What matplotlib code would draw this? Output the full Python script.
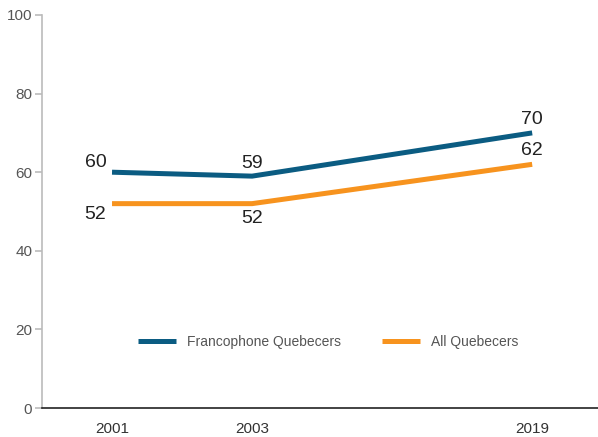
import matplotlib
matplotlib.use('Agg')
import matplotlib.pyplot as plt

years = ['2001', '2003', '2019']
x_pos = [0, 1, 3]
franco = [60, 59, 70]
all_qc = [52, 52, 62]

blue = '#0b5c82'
orange = '#f7931e'

plt.rcParams['font.family'] = ['Liberation Sans Narrow', 'Liberation Sans', 'DejaVu Sans']

fig = plt.figure(figsize=(5.98, 4.37), dpi=100)
ax = fig.add_axes([42 / 598, 1 - 408 / 437, 1 - 42 / 598, 393 / 437])

ax.plot(x_pos, franco, color=blue, lw=3.6, label='Francophone Quebecers', solid_capstyle='butt')
ax.plot(x_pos, all_qc, color=orange, lw=3.6, label='All Quebecers', solid_capstyle='butt')

ax.set_xlim(-0.5, 3.47)
ax.set_ylim(0, 100)
ax.set_yticks([0, 20, 40, 60, 80, 100])
ax.set_xticks(x_pos)
ax.set_xticklabels(years)

for s in ['top', 'right']:
    ax.spines[s].set_visible(False)
ax.spines['left'].set_color('#bbbbbb')
ax.spines['left'].set_linewidth(1.2)
ax.spines['bottom'].set_color('#222222')
ax.spines['bottom'].set_linewidth(1.2)
ax.tick_params(axis='y', colors='#bbbbbb', labelcolor='#555555', length=5, width=1.2, labelsize=11, pad=2)
ax.tick_params(axis='x', length=0, labelcolor='#333333', labelsize=11, pad=10)

lab = dict(fontsize=14, color='#222222')
ax.text(x_pos[0] - 0.04, franco[0] + 0.3, str(franco[0]), ha='right', va='bottom', **lab)
ax.text(x_pos[0] - 0.04, all_qc[0] - 0.5, str(all_qc[0]), ha='right', va='top', **lab)
ax.text(x_pos[1], franco[1] + 1, str(franco[1]), ha='center', va='bottom', **lab)
ax.text(x_pos[1], all_qc[1] - 1.5, str(all_qc[1]), ha='center', va='top', **lab)
ax.text(x_pos[2], franco[2] + 1.3, str(franco[2]), ha='center', va='bottom', **lab)
ax.text(x_pos[2], all_qc[2] + 1.3, str(all_qc[2]), ha='center', va='bottom', **lab)

ax.legend(loc='center', bbox_to_anchor=(0.515, 0.168), ncol=2, frameon=False,
          fontsize=10, handlelength=2.7, handletextpad=0.8, columnspacing=3.0,
          labelcolor='#555555')

fig.savefig('out.png', dpi=100)
